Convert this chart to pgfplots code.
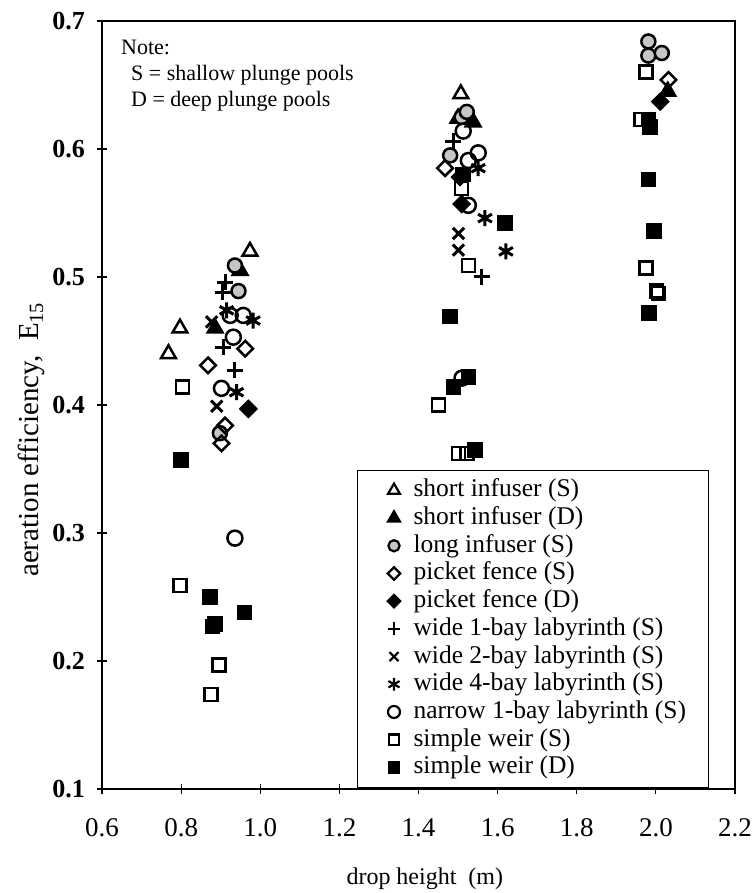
\documentclass[border=0pt]{standalone}
\usepackage{pgfplots}
\pgfplotsset{compat=1.18}
\usepackage{fontspec}
\setmainfont{Liberation Serif}
\begin{document}
\fontsize{24bp}{28bp}\selectfont
\begin{tikzpicture}
\path[use as bounding box] (-102bp,-104bp) rectangle (653bp,789bp);
\begin{axis}[
  scale only axis, width=633bp, height=768bp,
  xmin=0.6, xmax=2.2, ymin=0.1, ymax=0.7,
  xtick={0.6,0.8,1.0,1.2,1.4,1.6,1.8,2.0,2.2},
  ytick={0.1,0.2,0.3,0.4,0.5,0.6,0.7},
  tick align=center, major tick length=10bp,
  xtick pos=bottom, ytick pos=left,
  axis line style={line width=2.5bp},
  tick style={line width=1.2bp, black},
  /pgf/number format/assume math mode=true,
  /pgf/number format/fixed, /pgf/number format/fixed zerofill,
  /pgf/number format/precision=1,
  xticklabel style={font=\fontsize{27bp}{27bp}\selectfont, yshift=-16bp},
  yticklabel style={font=\fontsize{26bp}{26bp}\selectfont\bfseries, xshift=-4bp},
  xlabel={drop height\ \ (m)},
  xlabel style={font=\fontsize{24bp}{24bp}\selectfont, at={(rel axis cs:0.51,-0.124)}, anchor=base},
  ylabel={aeration efficiency,\ \ E\textsubscript{15}},
  ylabel style={font=\fontsize{29bp}{29bp}\selectfont, at={(rel axis cs:-0.112,0.455)}, anchor=center, rotate=0},
  every axis plot/.append style={only marks, line width=2.5bp, black},
  legend image code/.code={\path (-13bp,0bp) (6bp,0bp);\draw[#1, line width=2.2bp, every mark/.append style={scale=0.8}] plot coordinates {(0bp,0bp)};},
  legend cell align=left,
  legend style={at={(rel axis cs:0.403,0.4154)}, anchor=north west,
    draw=black, line width=0.8bp, font=\fontsize{25.5bp}{25.5bp}\selectfont,
    row sep=2.7bp, inner xsep=22bp, inner ysep=7.5bp,
    nodes={inner sep=0pt, text height=19bp, text depth=6bp}, column sep=12bp},
]
% short infuser (S)
\addplot[mark=triangle, mark size=8.5bp] coordinates {
(0.768,0.440) (0.797,0.460) (0.974,0.520) (1.507,0.643)};
\addlegendentry{short infuser (S)}
% short infuser (D)
\addplot[mark=triangle*, mark size=8.5bp] coordinates {
(0.886,0.460) (0.949,0.505) (1.500,0.624) (1.538,0.621) (2.030,0.645)};
\addlegendentry{short infuser (D)}
% long infuser (S)
\addplot[mark=*, mark size=7bp, mark options={fill=gray!45, draw=black}] coordinates {
(0.936,0.509) (0.945,0.489) (0.898,0.378) (1.509,0.625) (1.522,0.629)
(1.480,0.595) (1.981,0.684) (1.981,0.673) (2.015,0.675)};
\addlegendentry{long infuser (S)}
% picket fence (S)
\addplot[mark=square, mark size=5.5bp, mark options={rotate=45}] coordinates {
(0.868,0.431) (0.962,0.444) (0.911,0.384) (0.902,0.370) (1.467,0.585) (2.032,0.654)};
\addlegendentry{picket fence (S)}
% picket fence (D)
\addplot[mark=square*, mark size=5.5bp, mark options={rotate=45}] coordinates {
(0.970,0.397) (1.509,0.557) (1.505,0.578) (2.011,0.637)};
\addlegendentry{picket fence (D)}
% wide 1-bay labyrinth (S)
\addplot[mark=+, mark size=8bp, line width=3bp] coordinates {
(0.911,0.496) (0.905,0.488) (0.906,0.445) (0.936,0.427) (1.488,0.606) (1.560,0.500)};
\addlegendentry{wide 1-bay labyrinth (S)}
% wide 2-bay labyrinth (S)
\addplot[mark=x, mark size=8bp, line width=3bp] coordinates {
(0.877,0.465) (0.890,0.399) (1.501,0.534) (1.501,0.521)};
\addlegendentry{wide 2-bay labyrinth (S)}
% wide 4-bay labyrinth (S)
\addplot[mark=asterisk, mark size=8bp, line width=3bp] coordinates {
(0.915,0.474) (0.982,0.466) (0.940,0.410) (1.551,0.585) (1.568,0.546) (1.621,0.520)};
\addlegendentry{wide 4-bay labyrinth (S)}
% narrow 1-bay labyrinth (S)
\addplot[mark=o, mark size=7.5bp] coordinates {
(0.924,0.470) (0.957,0.470) (0.932,0.453) (0.902,0.413) (0.936,0.296)
(1.513,0.614) (1.551,0.597) (1.526,0.591) (1.526,0.556) (1.510,0.421)};
\addlegendentry{narrow 1-bay labyrinth (S)}
% simple weir (S)
\addplot[mark=square, mark size=6.5bp] coordinates {
(0.804,0.414) (0.797,0.259) (0.896,0.197) (0.876,0.174) (1.509,0.569)
(1.526,0.509) (1.450,0.400) (1.501,0.362) (1.522,0.362) (1.975,0.660)
(1.962,0.623) (1.975,0.507) (2.002,0.489) (2.006,0.487)};
\addlegendentry{simple weir (S)}
% simple weir (D)
\addplot[mark=square*, mark size=6.5bp] coordinates {
(0.800,0.357) (0.873,0.250) (0.960,0.238) (0.879,0.227) (0.886,0.229)
(1.513,0.580) (1.619,0.542) (1.480,0.469) (1.526,0.422) (1.488,0.414)
(1.543,0.365) (1.981,0.623) (1.985,0.617) (1.981,0.576) (1.995,0.536) (1.983,0.472)};
\addlegendentry{simple weir (D)}
\node[anchor=north west, align=left, inner sep=0pt, font=\fontsize{22bp}{26bp}\selectfont]
  at (rel axis cs:0.03,0.975) {Note:\\\hspace*{10bp}S = shallow plunge pools\\\hspace*{10bp}D = deep plunge pools};
\end{axis}
\end{tikzpicture}
\end{document}
